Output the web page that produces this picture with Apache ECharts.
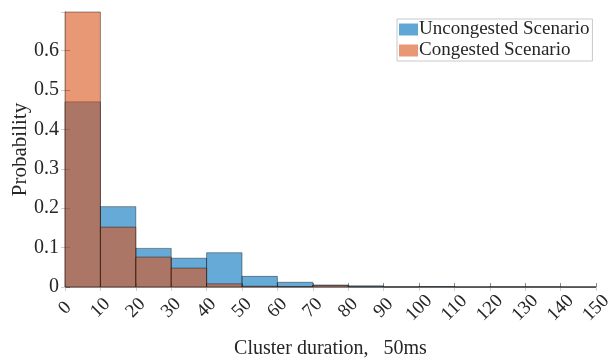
<!DOCTYPE html>
<html>
<head>
<meta charset="utf-8">
<script src="https://cdn.jsdelivr.net/npm/echarts@6/dist/echarts.min.js"></script>
<style>
  html, body { margin: 0; padding: 0; background: #fff; }
  #chart { width: 608px; height: 358px; }
</style>
</head>
<body>
<div id="chart"></div>
<script>
// bin edges of the histogram (cluster duration)
const binEdges = [0, 10, 20, 30, 40, 50, 60, 70, 80, 90, 100, 110, 120, 130, 140, 150]
const seriesNames = ['Uncongested Scenario', 'Congested Scenario']
// probability per bin
const uncongested = [0.47, 0.204, 0.098, 0.073, 0.087, 0.027, 0.012, 0.005, 0.003, 0.0005, 0.001, 0.0003, 0.0005, 0.0005, 0]
const congested = [0.698, 0.152, 0.076, 0.048, 0.008, 0.002, 0.001, 0.004, 0.0005, 0, 0.0003, 0, 0, 0, 0]
const yTicks = [0, 0.1, 0.2, 0.3, 0.4, 0.5, 0.6]

const serif = 'Liberation Serif'
const textColor = '#262626'

const toBins = (vals) => vals.map((v, i) => [binEdges[i], binEdges[i + 1], v])

const renderBin = (fill) => (params, api) => {
	const p0 = api.coord([api.value(0), api.value(2)])
	const p1 = api.coord([api.value(1), 0])
	return {
		type: 'rect',
		shape: { x: p0[0], y: p0[1], width: p1[0] - p0[0], height: p1[1] - p0[1] },
		style: { fill: fill, stroke: 'rgba(0,0,0,0.4)', lineWidth: 1 }
	}
}

const blue = 'rgba(0,114,189,0.6)'
const orange = 'rgba(217,83,25,0.6)'

const chart = echarts.init(document.getElementById('chart'))
chart.setOption({
	animation: false,
	grid: { left: 65, right: 12, top: 12, bottom: 71, outerBoundsMode: 'none', containLabel: false },
	legend: {
		orient: 'vertical',
		left: 397,
		top: 19,
		itemWidth: 19,
		itemHeight: 12,
		itemGap: 2,
		padding: [1, 3, 1, 2],
		borderColor: '#c8c8c8',
		borderWidth: 1,
		backgroundColor: '#fff',
		icon: 'rect',
		textStyle: { fontFamily: serif, fontSize: 19, color: textColor, padding: [0, 0, 0, -4] },
		data: seriesNames
	},
	xAxis: [
		{
			type: 'value',
			min: binEdges[0],
			max: binEdges[binEdges.length - 1],
			interval: 10,
			name: 'Cluster duration,   50ms',
			nameLocation: 'middle',
			nameGap: 52,
			nameTextStyle: { fontFamily: serif, fontSize: 20, color: textColor },
			axisLine: { lineStyle: { color: '#8c8c8c' } },
			axisTick: { inside: true, length: 4, lineStyle: { color: '#8c8c8c' } },
			axisLabel: {
				rotate: 45, align: 'center', verticalAlign: 'middle',
				fontFamily: serif, fontSize: 19, color: textColor, margin: 21
			},
			splitLine: { show: false }
		},
		{
			type: 'value',
			position: 'top',
			min: binEdges[0],
			max: binEdges[binEdges.length - 1],
			interval: 10,
			axisLine: { lineStyle: { color: '#cfcfcf' } },
			axisTick: { inside: true, length: 4, lineStyle: { color: '#cfcfcf' } },
			axisLabel: { show: false },
			splitLine: { show: false }
		}
	],
	yAxis: [
		{
			type: 'value',
			min: 0,
			max: 0.698,
			interval: 0.1,
			name: 'Probability',
			nameLocation: 'middle',
			nameGap: 34,
			nameMoveOverlap: false,
			nameTextStyle: { fontFamily: serif, fontSize: 21, color: textColor },
			axisLine: { show: true, lineStyle: { color: '#8c8c8c' } },
			axisTick: { show: true, inside: true, length: 5, lineStyle: { color: '#8c8c8c' } },
			axisLabel: {
				fontFamily: serif, fontSize: 20, color: textColor, margin: 6, showMaxLabel: false,
				formatter: (v) => (yTicks.some((t) => Math.abs(t - v) < 1e-6) ? String(+v.toFixed(1)) : '')
			},
			splitLine: { show: false }
		},
		{
			type: 'value',
			position: 'right',
			min: 0,
			max: 0.698,
			interval: 0.1,
			axisLine: { show: true, lineStyle: { color: '#cfcfcf' } },
			axisTick: { show: true, inside: true, length: 4, lineStyle: { color: '#cfcfcf' } },
			axisLabel: { show: false },
			splitLine: { show: false }
		}
	],
	series: [
		{
			name: seriesNames[0],
			type: 'custom',
			renderItem: renderBin(blue),
			itemStyle: { color: '#5fa8d6' },
			encode: { x: [0, 1], y: 2 },
			data: toBins(uncongested),
			z: 2
		},
		{
			name: seriesNames[1],
			type: 'custom',
			renderItem: renderBin(orange),
			itemStyle: { color: '#e89875' },
			encode: { x: [0, 1], y: 2 },
			data: toBins(congested),
			z: 3
		}
	]
})
</script>
</body>
</html>
